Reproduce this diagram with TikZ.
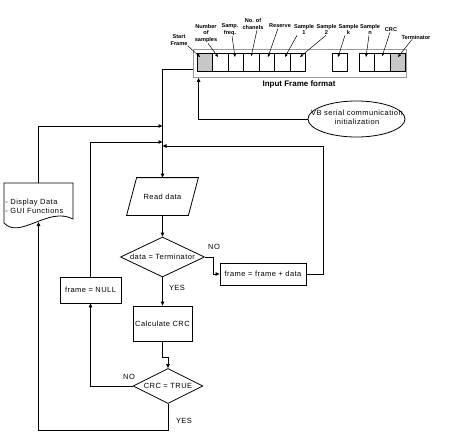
\documentclass[tikz,border=0pt]{standalone}
\usepackage{fontspec}
\setmainfont{Liberation Sans}
\newfontfamily\wfont[LetterSpace=6]{Liberation Sans}
\usetikzlibrary{arrows.meta,shapes.geometric}
\begin{document}
\begin{tikzpicture}[x=1pt,y=-1pt, line width=0.8pt,
  arr/.style={-{Triangle[length=4pt,width=3.5pt]}},
  ptr/.style={line width=0.5pt,-{Triangle[length=3pt,width=2.5pt]}},
  flow/.style={font=\wfont\fontsize{7.5}{9}\selectfont, inner sep=0pt},
  cell/.style={draw, line width=0.6pt, minimum width=15.5pt, minimum height=18pt, inner sep=0pt},
  tiny/.style={font=\bfseries\fontsize{5.6}{6.8}\selectfont, align=center, inner sep=0pt},
  box/.style={draw, rectangle, inner sep=0pt, flow},
]
\useasboundingbox (0,0) rectangle (453,434);
% ---------- input frame ----------
\node[draw=black!40, line width=0.8pt, minimum width=213pt, minimum height=28.5pt, inner sep=0pt] (frm) at (299.5,63.25) {};
\node[cell, fill=black!22] (c1) at (204.75,62) {};
\node[cell] (c2) at (220.25,62) {};
\node[cell] (c3) at (235.75,62) {};
\node[cell] (c4) at (251.25,62) {};
\node[cell, line width=0.9pt] (c5) at (266.75,62) {};
\node[cell] (c6) at (282.25,62) {};
\node[cell] (c7) at (297.75,62) {};
\node[cell] (ck) at (339.75,62) {};
\node[cell] (cn) at (366.75,62) {};
\node[cell] (ccrc) at (382.25,62) {};
\node[cell, fill=black!22] (cterm) at (397.75,62) {};
\node[font=\bfseries\fontsize{8}{9}\selectfont, inner sep=0pt] (iff) at (299,84) {Input Frame format};
% labels
\node[tiny] (lsf) at (179,40) {Start\\Frame};
\node[tiny] (lns) at (206,33.5) {Number\\of\\samples};
\node[tiny] (lsfq) at (230,29.5) {Samp.\\freq.};
\node[tiny] (lnc) at (253,24) {No. of\\chanels};
\node[tiny] (lres) at (280,26) {Reserve};
\node[tiny] (ls1) at (304,29.5) {Sample\\1};
\node[tiny] (ls2) at (326.5,29.5) {Sample\\2};
\node[tiny] (lsk) at (348.5,29.5) {Sample\\k};
\node[tiny] (lsn) at (370,29.5) {Sample\\n};
\node[tiny] (lcrc) at (391,30) {CRC};
\node[tiny] (lterm) at (416,37) {Terminator};
\draw[ptr] (lsf.south east) -- ([xshift=-4.75pt,yshift=5pt]c1.center);
\draw[ptr] ([xshift=2pt]lns.south) -- ([xshift=-2.25pt,yshift=5pt]c2.center);
\draw[ptr] ([xshift=2pt]lsfq.south) -- ([xshift=-0.75pt,yshift=5pt]c3.center);
\draw[ptr] ([xshift=4pt]lnc.south) -- ([yshift=6pt]c4.center);
\draw[ptr] ([xshift=-2pt]lres.south) -- ([xshift=1.25pt,yshift=5pt]c5.center);
\draw[ptr] ([xshift=-7pt]ls1.south) -- ([xshift=2.75pt,yshift=5pt]c6.center);
\draw[ptr] ([xshift=-0.5pt]ls2.south) -- ([xshift=2.25pt,yshift=5pt]c7.center);
\draw[ptr] ([xshift=-3.5pt]lsk.south) -- ([xshift=-1.75pt,yshift=5pt]ck.center);
\draw[ptr] ([xshift=-1pt]lsn.south) -- ([xshift=-0.75pt,yshift=5pt]cn.center);
\draw[ptr] ([xshift=-1pt]lcrc.south) -- ([yshift=6pt]ccrc.center);
\draw[ptr] ([xshift=-4pt]lterm.south) -- ([xshift=0.25pt,yshift=5pt]cterm.center);
% ---------- VB init ----------
\node[draw, ellipse, minimum width=97pt, minimum height=36pt, inner sep=0pt] (vb) at (356.5,119) {};
\node[flow, align=center] (vbt) at (357,117.5) {VB serial communication\\initialization};
\draw[arr] (vb.west) -| ([xshift=6pt]frm.south west);
% ---------- flow ----------
\coordinate (j1) at (162.5,126);
\coordinate (j2) at (162.5,142);
\coordinate (j3) at (162.5,146);
\node[flow, minimum width=61pt, minimum height=37pt] (rd) at (162.5,196.5) {Read data};
\draw ([xshift=5pt]rd.north west) -- ([xshift=5pt]rd.north east) -- ([xshift=-5pt]rd.south east) -- ([xshift=-5pt]rd.south west) -- cycle;
\node[draw, diamond, minimum width=84pt, minimum height=40pt, inner sep=0pt] (d1) at (162.5,257) {};
\node[flow] (d1t) at (d1.center) {data = Terminator};
\node[box, minimum width=86pt, minimum height=22pt] (fd) at (263,274) {frame = frame + data};
\node[box, minimum width=59pt, minimum height=35pt] (calc) at (162.5,323.5) {Calculate CRC};
\node[draw, diamond, minimum width=70pt, minimum height=35pt, inner sep=0pt] (d2) at (168,386) {};
\node[flow] (d2t) at (d2.center) {CRC = TRUE};
\node[box, minimum width=61pt, minimum height=26pt] (null) at (90.5,290) {frame = NULL};
% document
\draw (4,223) -- (4,183) -- (73,183) -- (73,219) .. controls (48,206) and (20,240) .. (4,223);
\coordinate (doctop) at (38.5,183);
\coordinate (docb) at (38.5,222);
\node[flow, align=left, anchor=west] (doc) at (5,206.5) {- Display Data\\- GUI Functions};
% labels
\node[flow] (no1) at (214,247) {NO};
\node[flow] (yes1) at (177,288) {YES};
\node[flow] (no2) at (129,377) {NO};
\node[flow] (yes2) at (184,421) {YES};
% connectors
\draw[arr] ([yshift=-5.75pt]frm.west) -| (rd.north);
\draw[arr] (doctop) |- (j1);
\draw[arr] (null.north) |- (j2);
\draw[arr] (fd.east) -- ++(17,0) |- (j3);
\draw[arr] (rd.south) -- (d1.north);
\draw[arr] (d1.east) -- ++(8.5,0) |- (fd.west);
\draw[arr] (d1.south) -- (calc.north);
\draw[arr] (calc.south) -- ++(0,16) -| (d2.north);
\draw[arr] (d2.west) -| (null.south);
\draw[arr] (d2.south) -- ++(0,26) -| (docb);
\end{tikzpicture}
\end{document}
